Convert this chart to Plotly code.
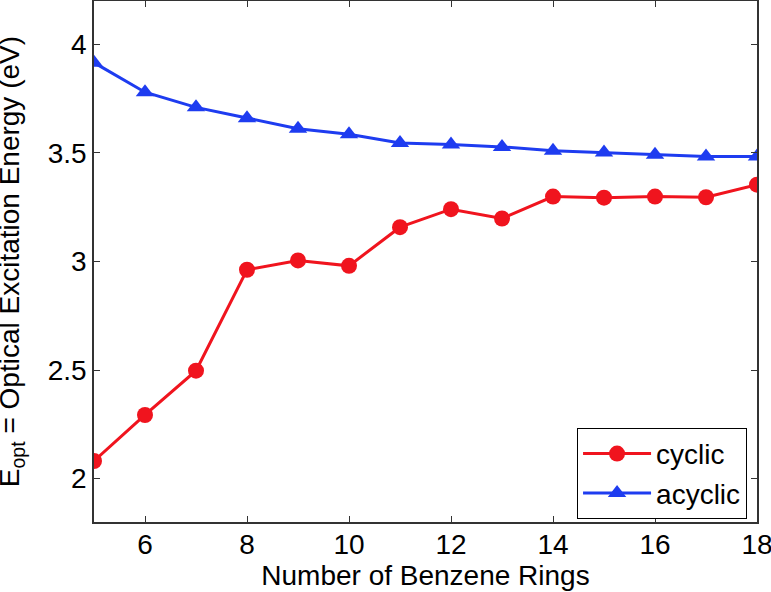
import plotly.graph_objects as go

rings = [5, 6, 7, 8, 9, 10, 11, 12, 13, 14, 15, 16, 17, 18]
cyclic = [2.081, 2.293, 2.497, 2.962, 3.005, 2.980, 3.158, 3.241, 3.198, 3.299, 3.294, 3.299, 3.296, 3.354]
acyclic = [3.916, 3.780, 3.710, 3.660, 3.612, 3.586, 3.546, 3.539, 3.528, 3.510, 3.502, 3.492, 3.484, 3.484]

x_ticks = [6, 8, 10, 12, 14, 16, 18]
y_ticks = [2, 2.5, 3, 3.5, 4]
y_tick_labels = ["2", "2.5", "3", "3.5", "4"]

FONT = "Liberation Sans, Arial, sans-serif"
FS = 28
RED = "#f0141e"
BLUE = "#1e3cf0"

fig = go.Figure()
fig.add_trace(go.Scatter(
    x=rings, y=cyclic, name="cyclic", mode="lines+markers",
    line=dict(color=RED, width=3),
    marker=dict(symbol="circle", size=16, color=RED),
))
fig.add_trace(go.Scatter(
    x=rings, y=acyclic, name="acyclic", mode="lines+markers",
    line=dict(color=BLUE, width=3),
    marker=dict(symbol="triangle-up", size=16, color=BLUE),
))

axis_common = dict(
    showline=True, linecolor="#333333", linewidth=1.5, mirror="ticks",
    ticks="inside", ticklen=6, tickcolor="#333333", tickwidth=1,
    showgrid=False, zeroline=False, automargin=False,
    ticklabeloverflow="allow",
    tickfont=dict(family=FONT, size=FS, color="black"),
)

fig.update_layout(
    width=771, height=592,
    margin=dict(l=94, r=14, t=1, b=70),
    plot_bgcolor="white", paper_bgcolor="white",
    font=dict(family=FONT, size=FS, color="black"),
    xaxis=dict(
        range=[5, 18], tickvals=x_ticks, ticklabelstandoff=-3,
        title=dict(text="Number of Benzene Rings", font=dict(family=FONT, size=FS), standoff=2),
        **axis_common,
    ),
    yaxis=dict(
        range=[1.8, 4.2], tickvals=y_ticks, ticktext=y_tick_labels,
        **axis_common,
    ),
    legend=dict(
        x=0.985, y=0.006, xanchor="right", yanchor="bottom",
        bgcolor="white", bordercolor="black", borderwidth=1,
        font=dict(family=FONT, size=FS),
        tracegroupgap=0, itemwidth=68,
    ),
    showlegend=True,
    annotations=[dict(
        text="E<sub>opt</sub> = Optical Excitation Energy (eV)",
        textangle=-90, xref="paper", yref="paper",
        x=-0.124, y=0.5, xanchor="center", yanchor="middle",
        showarrow=False, font=dict(family=FONT, size=FS, color="black"),
    )],
)

fig.write_html("out.html", config={"displayModeBar": False},
               post_script="document.body.style.margin='0';")
